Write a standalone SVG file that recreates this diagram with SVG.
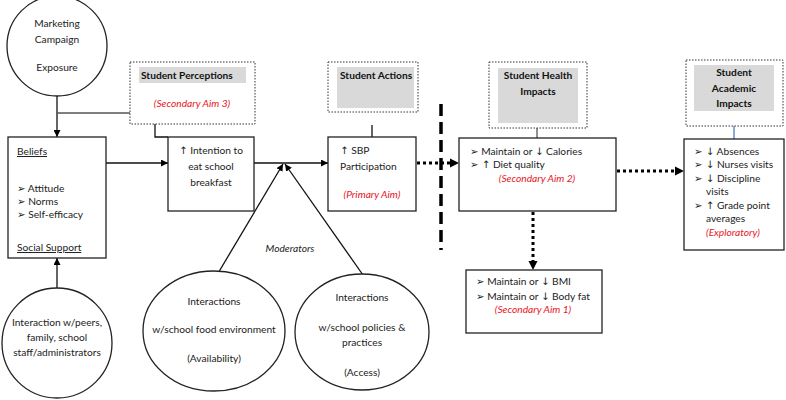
<svg xmlns="http://www.w3.org/2000/svg" width="786" height="400" viewBox="0 0 786 400">
<defs>
<marker id="ah" viewBox="0 0 10 10" refX="10" refY="5" markerWidth="7" markerHeight="7" markerUnits="userSpaceOnUse" orient="auto"><path d="M0,0 L10,5 L0,10 z" fill="#000"/></marker>
</defs>
<style>
text{font-family:Lato,"Open Sans","DejaVu Sans",sans-serif;font-size:10.2px;fill:#222}
.s{font-family:"DejaVu Sans",sans-serif;fill:#222}
.c{text-anchor:middle}
.b{font-weight:bold;fill:#111}
.r{fill:#e8141c;font-style:italic}
.i{font-style:italic}
.u{text-decoration:underline}
.box{fill:#fff;stroke:#222;stroke-width:1.3}
.dbox{fill:#fff;stroke:#333;stroke-width:1;stroke-dasharray:1.5 1.5}
.gray{fill:#d9d9d9}
.ln{stroke:#111;stroke-width:1.3;fill:none}
.dot{stroke:#000;stroke-width:3;stroke-dasharray:3 3;fill:none}
</style>
<rect width="786" height="400" fill="#fff"/>

<g id="connectors">
<line class="ln" x1="57" y1="96" x2="57" y2="137" marker-end="url(#ah)"/>
<line x1="57" y1="113" x2="130" y2="113" stroke="#555" stroke-width="1.5"/>
<polyline class="ln" points="155,124 155,137 168,137"/>
<line class="ln" x1="372" y1="125" x2="372" y2="137"/>
<line class="ln" x1="95" y1="163" x2="168" y2="163" marker-end="url(#ah)"/>
<line class="ln" x1="254" y1="163" x2="328" y2="163" marker-end="url(#ah)"/>
<line class="ln" x1="217" y1="275" x2="283" y2="164" marker-end="url(#ah)"/>
<line class="ln" x1="363" y1="275" x2="285" y2="164" marker-end="url(#ah)"/>
<line class="ln" x1="57" y1="288" x2="57" y2="258" marker-end="url(#ah)"/>
<line class="dot" x1="417" y1="163" x2="452" y2="163"/>
<path d="M450,158.5 L459,163 L450,167.5 z" fill="#000"/>
<line class="dot" x1="617" y1="171" x2="676" y2="171"/>
<path d="M675,166.5 L684,171 L675,175.5 z" fill="#000"/>
<line class="dot" x1="533" y1="212" x2="533" y2="262"/>
<path d="M528.5,261 L533,270 L537.5,261 z" fill="#000"/>
<line x1="441" y1="104" x2="441" y2="250" stroke="#000" stroke-width="3.5" stroke-dasharray="12 6"/>
<line x1="537" y1="128" x2="537" y2="138" stroke="#555" stroke-width="1.3"/>
<line x1="734" y1="126" x2="734" y2="139" stroke="#4a7ebb" stroke-width="1.3"/>
</g>

<g id="marketing">
<circle cx="57" cy="46" r="50" class="box"/>
<text x="57" y="27" class="c">Marketing</text>
<text x="57" y="43" class="c">Campaign</text>
<text x="57" y="71" class="c">Exposure</text>
</g>

<g id="perceptions">
<rect x="130" y="62" width="125" height="62" class="dbox"/>
<rect x="139" y="67" width="107" height="16" class="gray"/>
<text x="141" y="79" class="b">Student Perceptions</text>
<text x="192" y="107" class="c r">(Secondary Aim 3)</text>
</g>

<g id="beliefs">
<rect x="8" y="137" width="98" height="121" class="box"/>
<text x="17" y="155" class="u">Beliefs</text>
<text x="17" y="192"><tspan class="s">➢</tspan> Attitude</text>
<text x="17" y="205"><tspan class="s">➢</tspan> Norms</text>
<text x="17" y="218"><tspan class="s">➢</tspan> Self-efficacy</text>
<text x="17" y="251" class="u">Social Support</text>
</g>

<g id="intention">
<rect x="168" y="137" width="86" height="74" class="box"/>
<text x="211" y="154" class="c"><tspan class="s">↑</tspan> Intention to</text>
<text x="211" y="170" class="c">eat school</text>
<text x="211" y="186" class="c">breakfast</text>
</g>

<g id="actions">
<rect x="328" y="62" width="90" height="50" class="dbox"/>
<rect x="337" y="67" width="77" height="41" class="gray"/>
<text x="340" y="79" class="b">Student Actions</text>
</g>

<g id="sbp">
<rect x="328" y="137" width="88" height="74" class="box"/>
<text x="340" y="154"><tspan class="s">↑</tspan> SBP</text>
<text x="340" y="170">Participation</text>
<text x="372" y="198" class="c r">(Primary Aim)</text>
</g>

<g id="health-title">
<rect x="489" y="62" width="98" height="66" class="dbox"/>
<rect x="498" y="68" width="80" height="55" class="gray"/>
<text x="538" y="79" class="c b">Student Health</text>
<text x="538" y="95" class="c b">Impacts</text>
</g>

<g id="health">
<rect x="459" y="138" width="157" height="73" class="box"/>
<text x="470" y="155"><tspan class="s">➢</tspan> Maintain or <tspan class="s">↓</tspan> Calories</text>
<text x="470" y="168"><tspan class="s">➢ ↑</tspan> Diet quality</text>
<text x="537" y="182" class="c r">(Secondary Aim 2)</text>
</g>

<g id="bmi">
<rect x="466" y="270" width="136" height="63" class="box"/>
<text x="476" y="285"><tspan class="s">➢</tspan> Maintain or <tspan class="s">↓</tspan> BMI</text>
<text x="476" y="300"><tspan class="s">➢</tspan> Maintain or <tspan class="s">↓</tspan> Body fat</text>
<text x="533" y="313" class="c r">(Secondary Aim 1)</text>
</g>

<g id="academic-title">
<rect x="686" y="60" width="97" height="66" class="dbox"/>
<rect x="694" y="65" width="80" height="46" class="gray"/>
<text x="734" y="76" class="c b">Student</text>
<text x="734" y="92" class="c b">Academic</text>
<text x="734" y="107" class="c b">Impacts</text>
</g>

<g id="academic">
<rect x="684" y="139" width="100" height="111" class="box"/>
<text x="694" y="155"><tspan class="s">➢ ↓</tspan> Absences</text>
<text x="694" y="168"><tspan class="s">➢ ↓</tspan> Nurses visits</text>
<text x="694" y="182"><tspan class="s">➢ ↓</tspan> Discipline</text>
<text x="706" y="195">visits</text>
<text x="694" y="209"><tspan class="s">➢ ↑</tspan> Grade point</text>
<text x="706" y="222">averages</text>
<text x="706" y="236" class="r">(Exploratory)</text>
</g>

<g id="moderators-label">
<text x="290" y="252" class="c i">Moderators</text>
</g>

<g id="food-env">
<ellipse cx="214" cy="331" rx="71" ry="60" class="box"/>
<text x="214" y="305" class="c">Interactions</text>
<text x="214" y="333" class="c">w/school food environment</text>
<text x="214" y="362" class="c">(Availability)</text>
</g>

<g id="policies">
<ellipse cx="362" cy="332" rx="67" ry="58" class="box"/>
<text x="362" y="301" class="c">Interactions</text>
<text x="362" y="331" class="c">w/school policies &amp;</text>
<text x="362" y="346" class="c">practices</text>
<text x="362" y="376" class="c">(Access)</text>
</g>

<g id="social">
<circle cx="57" cy="343" r="55" class="box"/>
<text x="57" y="326" class="c">Interaction w/peers,</text>
<text x="57" y="341" class="c">family, school</text>
<text x="57" y="356" class="c">staff/administrators</text>
</g>
</svg>
